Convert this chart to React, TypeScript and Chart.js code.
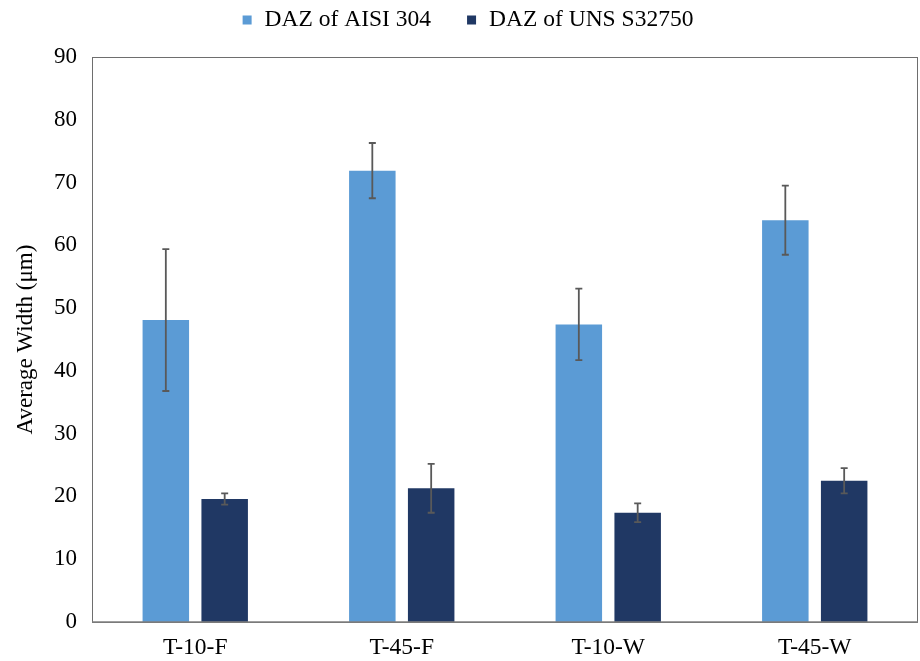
import React, { useEffect, useRef } from "react";
import { Chart, registerables } from "chart.js";

Chart.register(...registerables);

const categories = ["T-10-F", "T-45-F", "T-10-W", "T-45-W"];
const seriesNames = ["DAZ of AISI 304", "DAZ of UNS S32750"];
const aisiValues = [48.1, 71.9, 47.4, 64.0];
const aisiErrors = [11.3, 4.4, 5.7, 5.5];
const unsValues = [19.6, 21.3, 17.4, 22.5];
const unsErrors = [0.9, 3.9, 1.5, 2.0];
const yTicks = [0, 10, 20, 30, 40, 50, 60, 70, 80, 90];
const yTitle = "Average Width (μm)";

const COLORS = ["#5B9BD5", "#203864"];
const FONT = "'Liberation Serif', 'Times New Roman', serif";

const errorBarPlugin = {
  id: "errorBars",
  afterDatasetsDraw(chart: any) {
    const ctx = chart.ctx;
    const yScale = chart.scales.y;
    const errs = [aisiErrors, unsErrors];
    chart.data.datasets.forEach((ds: any, di: number) => {
      const meta = chart.getDatasetMeta(di);
      meta.data.forEach((bar: any, i: number) => {
        const v = ds.data[i];
        const e = errs[di][i];
        const x = bar.x;
        const yT = yScale.getPixelForValue(v + e);
        const yB = yScale.getPixelForValue(v - e);
        ctx.save();
        ctx.strokeStyle = "#595959";
        ctx.lineWidth = 1.8;
        ctx.beginPath();
        ctx.moveTo(x, yT);
        ctx.lineTo(x, yB);
        ctx.moveTo(x - 3.5, yT);
        ctx.lineTo(x + 3.5, yT);
        ctx.moveTo(x - 3.5, yB);
        ctx.lineTo(x + 3.5, yB);
        ctx.stroke();
        ctx.restore();
      });
    });
  },
};

const frameAndLegendPlugin = {
  id: "frameLegend",
  beforeDatasetsDraw(chart: any) {
    const { ctx, chartArea } = chart;
    ctx.save();
    ctx.strokeStyle = "#6e6e6e";
    ctx.lineWidth = 1;
    ctx.strokeRect(
      Math.round(chartArea.left) + 0.5,
      Math.round(chartArea.top) + 0.5,
      Math.round(chartArea.right - chartArea.left) - 1,
      Math.round(chartArea.bottom - chartArea.top)
    );
    ctx.restore();
  },
  afterDatasetsDraw(chart: any) {
    const { ctx, chartArea } = chart;
    ctx.save();
    ctx.strokeStyle = "#7f7f7f";
    ctx.lineWidth = 1.5;
    ctx.beginPath();
    ctx.moveTo(chartArea.left, chartArea.bottom);
    ctx.lineTo(chartArea.right, chartArea.bottom);
    ctx.stroke();
    ctx.restore();
  },
  afterDraw(chart: any) {
    const ctx = chart.ctx;
    ctx.save();
    ctx.font = `23.5px ${FONT}`;
    ctx.textBaseline = "middle";
    ctx.fillStyle = "#000";
    const box = 9;
    const gap = 13;
    const spacing = 36;
    const widths = seriesNames.map((n) => ctx.measureText(n).width);
    const total =
      widths.reduce((a, b) => a + b, 0) + seriesNames.length * (box + gap) + spacing * (seriesNames.length - 1);
    let x = 468 - total / 2;
    const yc = 20;
    seriesNames.forEach((n, i) => {
      ctx.fillStyle = COLORS[i];
      ctx.fillRect(x, yc - box / 2, box, box);
      x += box + gap;
      ctx.fillStyle = "#000";
      ctx.fillText(n, x, yc);
      x += widths[i] + spacing;
    });
    ctx.restore();
  },
};

export default function App() {
  const ref = useRef<HTMLCanvasElement>(null);
  useEffect(() => {
    if (!ref.current) return;
    const chart = new Chart(ref.current, {
      type: "bar",
      data: {
        labels: categories,
        datasets: [
          {
            label: seriesNames[0],
            data: aisiValues,
            backgroundColor: COLORS[0],
            categoryPercentage: 0.57,
            barPercentage: 0.79,
          },
          {
            label: seriesNames[1],
            data: unsValues,
            backgroundColor: COLORS[1],
            categoryPercentage: 0.57,
            barPercentage: 0.79,
          },
        ],
      },
      options: {
        animation: false,
        responsive: false,
        maintainAspectRatio: false,
        layout: { padding: { top: 57, left: 8, right: 2, bottom: 0 } },
        plugins: {
          legend: { display: false },
          tooltip: { enabled: false },
        },
        scales: {
          x: {
            grid: { display: false, drawTicks: false },
            border: { display: false },
            ticks: {
              color: "#000",
              padding: 12,
              font: { family: FONT, size: 23.5 },
            },
            afterFit(scale: any) {
              scale.height = 39;
            },
          },
          y: {
            min: 0,
            max: 90,
            grid: { display: false, drawTicks: false },
            border: { display: false },
            afterBuildTicks(scale: any) {
              scale.ticks = yTicks.map((v) => ({ value: v }));
            },
            ticks: {
              color: "#000",
              padding: 15,
              font: { family: FONT, size: 23 },
            },
            title: {
              display: true,
              text: yTitle,
              color: "#000",
              font: { family: FONT, size: 23 },
              padding: { top: 4, bottom: 4 },
            },
            afterFit(scale: any) {
              scale.width = 84;
            },
          },
        },
      },
      plugins: [frameAndLegendPlugin, errorBarPlugin],
    });
    return () => chart.destroy();
  }, []);
  return (
    <div style={{ position: "fixed", left: 0, top: 0, width: 920, height: 661, background: "#fff" }}>
      <canvas ref={ref} width={920} height={661} style={{ display: "block" }} />
    </div>
  );
}
